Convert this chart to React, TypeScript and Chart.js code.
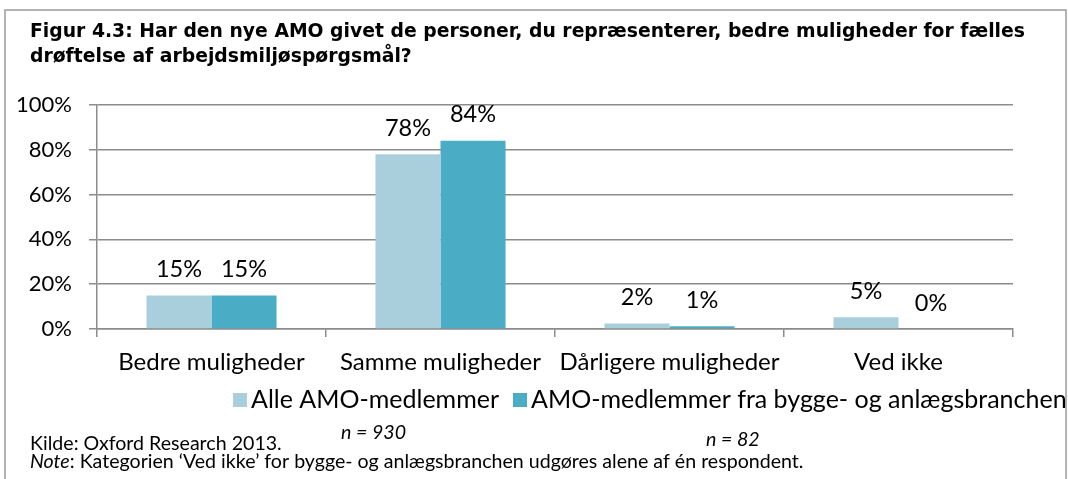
import React, { useEffect, useRef } from "react";
import { Chart, registerables } from "chart.js";

Chart.register(...registerables);

const categories = ["Bedre muligheder", "Samme muligheder", "Dårligere muligheder", "Ved ikke"];
const seriesNames = ["Alle AMO-medlemmer", "AMO-medlemmer fra bygge- og anlægsbranchen"];
const allMembers = [15, 78, 2.4, 5.3];
const buildMembers = [15, 84, 1.2, 0];
const yTicks = [0, 20, 40, 60, 80, 100];
const titleLines = [
  "Figur 4.3: Har den nye AMO givet de personer, du repræsenterer, bedre muligheder for fælles",
  "drøftelse af arbejdsmiljøspørgsmål?",
];
const sourceText = "Kilde: Oxford Research 2013.";
const nAll = "n = 930";
const nBuild = "n = 82";
const noteLabel = "Note";
const noteText = ": Kategorien ‘Ved ikke’ for bygge- og anlægsbranchen udgøres alene af én respondent.";

const COLORS = ["#a9cfdc", "#4bacc6"];
const GRID = "#8c8c8c";
const FONT = "Lato";

const overlay = {
  id: "overlay",
  afterDraw(chart: any) {
    const ctx = chart.ctx;
    ctx.save();
    // frame
    ctx.strokeStyle = "#9a9a9a";
    ctx.lineWidth = 1.5;
    ctx.beginPath();
    ctx.moveTo(5, 479);
    ctx.lineTo(5, 10);
    ctx.lineTo(1066, 10);
    ctx.lineTo(1066, 479);
    ctx.stroke();

    // title
    ctx.fillStyle = "#000";
    ctx.font = "bold 18.8px 'DejaVu Sans'";
    ctx.textAlign = "left";
    ctx.textBaseline = "middle";
    ctx.fillText(titleLines[0], 30, 32);
    ctx.fillText(titleLines[1], 30, 57);

    // data labels
    ctx.font = `23.5px ${FONT}`;
    ctx.textAlign = "center";
    ctx.textBaseline = "middle";
    chart.data.datasets.forEach((ds: any, di: number) => {
      const meta = chart.getDatasetMeta(di);
      meta.data.forEach((el: any, i: number) => {
        const v = Math.round(ds.data[i]);
        ctx.fillText(v + "%", el.x, el.y - 26);
      });
    });

    // legend
    ctx.font = `25px ${FONT}`;
    ctx.textAlign = "left";
    let lx = 233;
    const ly = 400;
    chart.data.datasets.forEach((ds: any, di: number) => {
      ctx.fillStyle = ds.backgroundColor;
      ctx.fillRect(lx, ly - 7, 14, 14);
      ctx.fillStyle = "#000";
      ctx.fillText(ds.label, lx + 18, ly);
      lx += 18 + ctx.measureText(ds.label).width + 14;
    });

    // footer
    ctx.font = `19.6px ${FONT}`;
    ctx.fillText(sourceText, 30, 444);
    ctx.font = `italic 19.6px ${FONT}`;
    ctx.fillText(nAll, 341, 433);
    ctx.fillText(nBuild, 706, 440);
    ctx.fillText(noteLabel, 30, 462);
    const nw = ctx.measureText(noteLabel).width;
    ctx.font = `19.6px ${FONT}`;
    ctx.fillText(noteText, 30 + nw, 462);
    ctx.restore();
  },
};

export default function App() {
  const ref = useRef<HTMLCanvasElement | null>(null);
  useEffect(() => {
    if (!ref.current) return;
    const chart = new Chart(ref.current, {
      type: "bar",
      data: {
        labels: categories,
        datasets: [
          {
            label: seriesNames[0],
            data: allMembers,
            backgroundColor: COLORS[0],
            categoryPercentage: 0.568,
            barPercentage: 1,
          },
          {
            label: seriesNames[1],
            data: buildMembers,
            backgroundColor: COLORS[1],
            categoryPercentage: 0.568,
            barPercentage: 1,
          },
        ],
      },
      options: {
        responsive: false,
        animation: false,
        devicePixelRatio: 1,
        layout: { padding: { top: 105, left: 0, right: 55, bottom: 0 } },
        plugins: {
          legend: { display: false },
          title: { display: false },
          tooltip: { enabled: false },
        },
        scales: {
          x: {
            afterFit: (s: any) => {
              s.height = 150;
            },
            grid: {
              drawOnChartArea: false,
              drawTicks: true,
              tickLength: 8,
              color: GRID,
              lineWidth: 1.5,
              offset: true,
            },
            border: { display: true, color: GRID, width: 1.5 },
            ticks: {
              color: "#000",
              font: { family: FONT, size: 24 },
              padding: 11,
              maxRotation: 0,
              autoSkip: false,
            },
          },
          y: {
            min: 0,
            max: 100,
            afterFit: (s: any) => {
              s.width = 97;
            },
            afterBuildTicks: (s: any) => {
              s.ticks = yTicks.map((v) => ({ value: v }));
            },
            grid: {
              color: GRID,
              lineWidth: 1.5,
              drawTicks: true,
              tickLength: 8,
            },
            border: { display: true, color: GRID, width: 1.5 },
            ticks: {
              color: "#000",
              font: { family: FONT, size: 22 },
              padding: 17,
              callback: (v: any) => v + "%",
            },
          },
        },
      },
      plugins: [overlay],
    });
    return () => chart.destroy();
  }, []);
  return (
    <div style={{ position: "absolute", left: 0, top: 0, width: 1068, height: 479, background: "#fff" }}>
      <canvas ref={ref} width={1068} height={479} style={{ display: "block", width: 1068, height: 479 }} />
    </div>
  );
}
